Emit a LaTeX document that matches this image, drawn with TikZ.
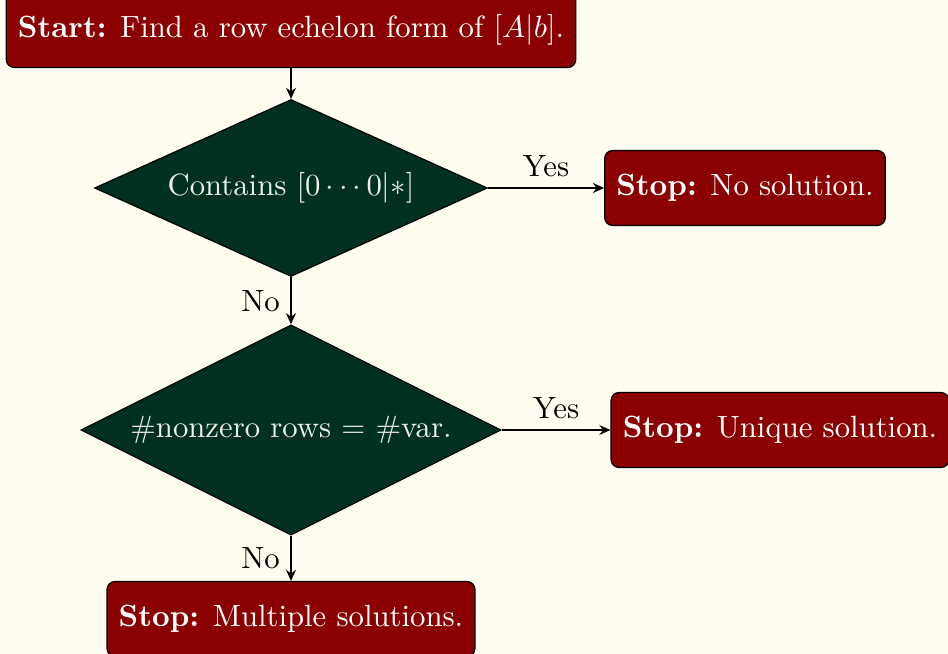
\documentclass[tikz,border=0pt]{standalone}
\usetikzlibrary{shapes.geometric,arrows.meta}
\definecolor{bg}{HTML}{FFFDF0}
\definecolor{boxred}{HTML}{8B0000}
\definecolor{dgreen}{HTML}{003020}
\definecolor{paletext}{HTML}{ECF0E8}
\begin{document}
\begin{tikzpicture}[x=0.3255pt,y=-0.3255pt,
  stopbox/.style={rectangle, rounded corners=2.6pt, draw=black, fill=boxred, text=white,
    minimum height=24.4pt, inner xsep=3.8pt, inner ysep=0pt},
  decision/.style={diamond, draw=black, fill=dgreen, text=paletext, inner sep=0pt},
  flow/.style={-{Stealth[length=3.6pt,width=3.2pt]}, semithick, black},
  lbl/.style={text=black}]
\fill[bg] (0,0) rectangle (948,654);
\useasboundingbox (0,0) rectangle (948,654);
\node[stopbox] (start) at (291,30) {\textbf{Start:} Find a row echelon form of $[A|b]$.};
\node[decision, aspect=2.22, minimum width=127.9pt, minimum height=57.6pt] (d1) at (291,188) {Contains $[0\cdots0|*]$};
\node[stopbox] (s1) at (745,188) {\textbf{Stop:} No solution.};
\node[decision, aspect=2.0, minimum width=136.7pt, minimum height=68.4pt] (d2) at (291,430) {\#nonzero rows $=$ \#var.};
\node[stopbox] (s2) at (780,430) {\textbf{Stop:} Unique solution.};
\node[stopbox] (s3) at (291,619) {\textbf{Stop:} Multiple solutions.};
\draw[flow] (start) -- (d1);
\draw[flow] (d1.east) -- node[lbl, above] {Yes} (s1.west);
\draw[flow] (d1.south) -- node[lbl, left] {No} (d2.north);
\draw[flow] (d2.east) -- node[lbl, above] {Yes} (s2.west);
\draw[flow] (d2.south) -- node[lbl, left] {No} (s3.north);
\end{tikzpicture}
\end{document}
